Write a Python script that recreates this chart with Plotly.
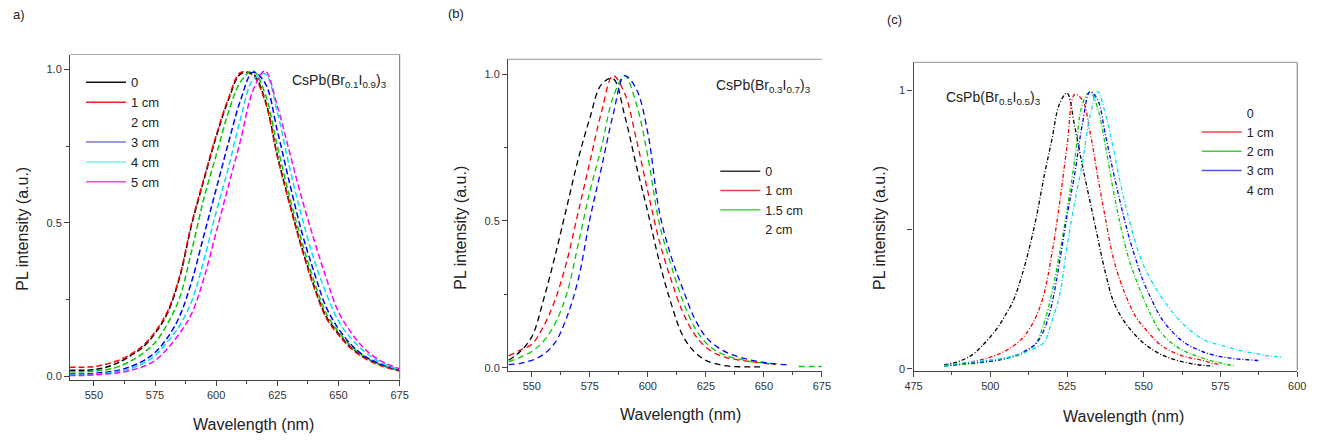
import plotly.graph_objects as go

# ---------------- data ----------------
# Panel (a) CsPb(Br0.1I0.9)3
WL_A = [540, 545, 550, 555, 560, 565, 570, 575, 580, 585, 590, 595, 600, 605,
        610, 615, 620, 625, 630, 635, 640, 645, 650, 655, 660, 665, 670, 675]
A_0CM = [0.020, 0.020, 0.022, 0.030, 0.045, 0.068, 0.095, 0.140, 0.205, 0.320, 0.495, 0.640, 0.780, 0.900,
         0.985, 0.985, 0.900, 0.720, 0.565, 0.420, 0.295, 0.195, 0.140, 0.095, 0.065, 0.045, 0.030, 0.020]
A_1CM = [0.030, 0.030, 0.032, 0.040, 0.052, 0.072, 0.100, 0.145, 0.210, 0.325, 0.500, 0.645, 0.785, 0.905,
         0.990, 0.980, 0.895, 0.715, 0.560, 0.415, 0.290, 0.190, 0.135, 0.092, 0.062, 0.042, 0.028, 0.018]
A_2CM = [0.015, 0.015, 0.017, 0.022, 0.032, 0.050, 0.075, 0.110, 0.170, 0.255, 0.410, 0.580, 0.720, 0.860,
         0.960, 0.995, 0.920, 0.750, 0.585, 0.440, 0.310, 0.205, 0.145, 0.100, 0.068, 0.046, 0.030, 0.020]
A_3CM = [0.008, 0.008, 0.010, 0.014, 0.020, 0.032, 0.050, 0.078, 0.125, 0.195, 0.310, 0.460, 0.610, 0.760,
         0.900, 0.990, 0.955, 0.800, 0.630, 0.470, 0.340, 0.225, 0.155, 0.105, 0.070, 0.048, 0.032, 0.020]
A_4CM = [0.005, 0.005, 0.007, 0.010, 0.016, 0.026, 0.042, 0.068, 0.112, 0.165, 0.245, 0.380, 0.535, 0.680,
         0.840, 0.965, 0.985, 0.860, 0.680, 0.520, 0.380, 0.270, 0.180, 0.125, 0.085, 0.056, 0.036, 0.022]
A_5CM = [0.003, 0.003, 0.005, 0.008, 0.012, 0.020, 0.032, 0.052, 0.090, 0.140, 0.205, 0.320, 0.470, 0.620,
         0.770, 0.930, 0.995, 0.880, 0.730, 0.580, 0.445, 0.320, 0.210, 0.145, 0.095, 0.062, 0.040, 0.025]
A_LABELS = ["0", "1 cm", "2 cm", "3 cm", "4 cm", "5 cm"]

# Panel (b) CsPb(Br0.3I0.7)3
WL_B = [540, 545, 550, 555, 560, 565, 570, 575, 580, 585, 590, 595, 600, 605,
        610, 615, 620, 625, 630, 635, 640, 645, 650, 655, 660, 665, 670, 675]
B_0CM = [0.025, 0.055, 0.105, 0.230, 0.380, 0.545, 0.710, 0.850, 0.965, 0.985, 0.860, 0.690, 0.530, 0.360,
         0.220, 0.110, 0.055, 0.025, 0.012, 0.005, 0.003, 0.003, 0.003, None, None, None, None, None]
B_1CM = [0.040, 0.060, 0.080, 0.140, 0.230, 0.360, 0.530, 0.700, 0.870, 0.995, 0.935, 0.780, 0.600, 0.430,
         0.300, 0.190, 0.115, 0.070, 0.045, 0.032, 0.025, 0.020, 0.015, 0.010, None, None, None, None]
B_15CM = [0.020, 0.035, 0.055, 0.090, 0.150, 0.250, 0.420, 0.600, 0.750, 0.920, 0.995, 0.900, 0.720, 0.490,
          0.350, 0.230, 0.140, 0.085, 0.055, 0.038, 0.028, 0.020, 0.016, 0.012, None, 0.004, 0.004, 0.004]
B_2CM = [0.010, 0.015, 0.025, 0.045, 0.085, 0.170, 0.300, 0.505, 0.680, 0.860, 0.995, 0.950, 0.800, 0.530,
         0.380, 0.270, 0.170, 0.105, 0.070, 0.048, 0.035, 0.025, 0.018, 0.013, 0.010, None, None, None]
B_LABELS = ["0", "1 cm", "1.5 cm", "2 cm"]

# Panel (c) CsPb(Br0.5I0.5)3
WL_C = [485.0, 487.5, 490.0, 492.5, 495.0, 497.5, 500.0, 502.5, 505.0, 507.5, 510.0, 512.5, 515.0, 517.5,
        520.0, 522.5, 525.0, 527.5, 530.0, 532.5, 535.0, 537.5, 540.0, 542.5, 545.0, 547.5, 550.0, 552.5,
        555.0, 557.5, 560.0, 562.5, 565.0, 567.5, 570.0, 572.5, 575.0, 577.5, 580.0, 582.5, 585.0, 587.5,
        590.0, 592.5, 595.0]
C_0CM = [0.015, 0.020, 0.028, 0.040, 0.058, 0.085, 0.115, 0.150, 0.195, 0.245, 0.325, 0.425, 0.545, 0.690,
         0.820, 0.950, 0.990, 0.870, 0.730, 0.600, 0.470, 0.345, 0.245, 0.190, 0.150, 0.118, 0.092, 0.072,
         0.055, 0.043, 0.033, 0.026, 0.020, 0.015, 0.012, 0.010, None, None, None, None, None, None,
         None, None, None]
C_1CM = [0.012, 0.014, 0.018, 0.022, 0.028, 0.034, 0.042, 0.052, 0.065, 0.082, 0.105, 0.140, 0.190, 0.270,
         0.410, 0.590, 0.800, 0.985, 0.965, 0.850, 0.690, 0.540, 0.400, 0.310, 0.240, 0.185, 0.150, 0.118,
         0.090, 0.072, 0.058, 0.047, 0.040, 0.035, 0.028, 0.020, 0.015, None, None, None, None, None,
         None, None, None]
C_2CM = [0.010, 0.012, 0.015, 0.018, 0.020, 0.023, 0.027, 0.031, 0.036, 0.043, 0.052, 0.068, 0.095, 0.165,
         0.270, 0.410, 0.570, 0.750, 0.950, 0.995, 0.935, 0.800, 0.645, 0.510, 0.400, 0.320, 0.250, 0.190,
         0.140, 0.108, 0.085, 0.068, 0.055, 0.045, 0.036, 0.028, 0.022, 0.015, 0.012, None, None, None,
         None, None, None]
C_3CM = [0.012, 0.014, 0.018, 0.020, 0.022, 0.025, 0.028, 0.032, 0.038, 0.046, 0.056, 0.072, 0.092, 0.140,
         0.230, 0.380, 0.550, 0.700, 0.880, 0.995, 0.965, 0.840, 0.710, 0.590, 0.480, 0.390, 0.310, 0.250,
         0.195, 0.155, 0.125, 0.100, 0.082, 0.070, 0.058, 0.050, 0.044, 0.040, 0.036, 0.034, 0.032, 0.030,
         None, None, None]
C_4CM = [0.012, 0.016, 0.020, 0.023, 0.026, 0.029, 0.032, 0.035, 0.040, 0.046, 0.054, 0.065, 0.078, 0.095,
         0.170, 0.260, 0.440, 0.600, 0.740, 0.910, 0.995, 0.915, 0.795, 0.660, 0.545, 0.445, 0.370, 0.315,
         0.270, 0.230, 0.195, 0.165, 0.140, 0.118, 0.102, 0.093, 0.085, 0.078, 0.070, 0.063, 0.058, 0.053,
         0.048, 0.045, 0.043]
C_LABELS = ["0", "1 cm", "2 cm", "3 cm", "4 cm"]

# ---------------- styles ----------------
W, H = 1327, 440
FONT = "Liberation Sans, Arial, sans-serif"
CURVE_COLORS = {"k": "#000000", "r": "#ff0000", "g": "#00cc00", "b": "#0000ff", "c": "#00e0ee", "m": "#ff00ff"}

def px_x(p):
    return p / W

def px_y(p):
    return 1 - p / H

fig = go.Figure()

def add_panel(idx, wl, series, colors, dash, width):
    xa = "x" if idx == 1 else f"x{idx}"
    ya = "y" if idx == 1 else f"y{idx}"
    for s, c in zip(series, colors):
        fig.add_trace(go.Scatter(x=wl, y=s, mode="lines", xaxis=xa, yaxis=ya,
                                 line=dict(color=CURVE_COLORS[c], width=width, dash=dash,
                                           shape="spline", smoothing=1.0),
                                 showlegend=False, hoverinfo="skip", connectgaps=False))

def add_legend(legend_name, labels, colors):
    for lab, col in zip(labels, colors):
        fig.add_trace(go.Scatter(x=[None], y=[None], mode="lines", name=lab,
                                 line=dict(color=col, width=1.5),
                                 legend=legend_name, showlegend=True))

add_panel(1, WL_A, [A_0CM, A_1CM, A_2CM, A_3CM, A_4CM, A_5CM], ["k", "r", "g", "b", "c", "m"], "6px,3px", 1.5)
add_panel(2, WL_B, [B_0CM, B_1CM, B_15CM, B_2CM], ["k", "r", "g", "b"], "6px,4px", 1.3)
add_panel(3, WL_C, [C_0CM, C_1CM, C_2CM, C_3CM, C_4CM], ["k", "r", "g", "b", "c"], "4px,2px,1px,2px", 1.3)

add_legend("legend", A_LABELS, ["#111111", "#ee2222", "rgba(0,0,0,0)", "#7777dd", "#77eeee", "#e050e0"])
add_legend("legend2", B_LABELS, ["#333333", "#e04444", "#44dd44", "rgba(0,0,0,0)"])
add_legend("legend3", C_LABELS, ["rgba(0,0,0,0)", "#f04444", "#44cc44", "#5555e0", "rgba(0,0,0,0)"])

tickfont = dict(family=FONT, size=11, color="#333333")
axline = dict(showline=True, linecolor="#444444", linewidth=1.3, ticks="outside",
              tickcolor="#444444", ticklen=5, tickwidth=1, showgrid=False, zeroline=False,
              tickfont=tickfont)

legfont = lambda s: dict(family=FONT, size=s, color="#222222")

fig.update_layout(
    width=W, height=H, margin=dict(l=0, r=0, t=0, b=0),
    paper_bgcolor="white", plot_bgcolor="white",
    font=dict(family=FONT, color="#222222"),
    xaxis=dict(domain=[px_x(62), px_x(396)], range=[540.3, 675], tick0=550, dtick=25,
               minor=dict(dtick=12.5, ticks="outside", ticklen=3, tickcolor="#444444"),
               anchor="y", **axline),
    yaxis=dict(domain=[px_y(383), px_y(55)], range=[-0.01, 1.048], tickvals=[0, 0.5, 1.0],
               ticktext=["0.0", "0.5", "1.0"],
               minor=dict(tickvals=[0.25, 0.75], ticks="outside", ticklen=3, tickcolor="#444444"),
               anchor="x", **axline),
    xaxis2=dict(domain=[px_x(506), px_x(824)], range=[539.8, 675], tick0=550, dtick=25,
                minor=dict(dtick=12.5, ticks="outside", ticklen=3, tickcolor="#444444"),
                anchor="y2", **axline),
    yaxis2=dict(domain=[px_y(374), px_y(60)], range=[-0.01, 1.05], tickvals=[0, 0.5, 1.0],
                ticktext=["0.0", "0.5", "1.0"],
                minor=dict(tickvals=[0.25, 0.75], ticks="outside", ticklen=3, tickcolor="#444444"),
                anchor="x2", **axline),
    xaxis3=dict(domain=[px_x(917), px_x(1306)], range=[475, 600], tick0=475, dtick=25,
                minor=dict(dtick=12.5, ticks="outside", ticklen=3, tickcolor="#444444"),
                anchor="y3", **axline),
    yaxis3=dict(domain=[px_y(374), px_y(63)], range=[-0.006, 1.1], tickvals=[0, 0.5, 1.0],
                ticktext=["0", "", "1"], anchor="x3", **axline),
    legend=dict(x=px_x(73), y=px_y(68), xanchor="left", yanchor="top",
                font=legfont(13), bgcolor="rgba(0,0,0,0)", itemwidth=40, tracegroupgap=0),
    legend2=dict(x=px_x(716), y=px_y(158), xanchor="left", yanchor="top",
                 font=legfont(12.5), bgcolor="rgba(0,0,0,0)", itemwidth=40, tracegroupgap=0),
    legend3=dict(x=px_x(1204), y=px_y(99), xanchor="left", yanchor="top",
                 font=legfont(12.5), bgcolor="rgba(0,0,0,0)", itemwidth=40, tracegroupgap=0),
)

# top / right frame lines
shapes = []
for xa, ya, right in [("x", "y", True), ("x2", "y2", False), ("x3", "y3", True)]:
    shapes.append(dict(type="line", xref=f"{xa} domain", yref=f"{ya} domain", x0=0, x1=1, y0=1, y1=1,
                       line=dict(color="#aaaaaa", width=1.2)))
    if right:
        shapes.append(dict(type="line", xref=f"{xa} domain", yref=f"{ya} domain", x0=1, x1=1, y0=0, y1=1,
                           line=dict(color="#888888", width=1.2)))
fig.update_layout(shapes=shapes)

ann = []
def text(x, y, s, size, angle=0, xanchor="center", color="#222222"):
    ann.append(dict(x=px_x(x), y=px_y(y), xref="paper", yref="paper", text=s, showarrow=False,
                    textangle=angle, xanchor=xanchor, yanchor="middle",
                    font=dict(family=FONT, size=size, color=color)))

# panel labels
text(2, 15, "a)", 13, xanchor="left")
text(443, 14, "(b)", 13, xanchor="left")
text(888, 20, "(c)", 13, xanchor="left")
# axis titles
text(248, 428, "Wavelength (nm)", 16)
text(14, 231, "PL intensity (a.u.)", 16, angle=-90)
text(681, 418, "Wavelength (nm)", 16)
text(458, 230, "PL intensity (a.u.)", 16, angle=-90)
text(1130, 420, "Wavelength (nm)", 16)
text(883, 230, "PL intensity (a.u.)", 16, angle=-90)
# compositions
text(285, 82, "CsPb(Br<sub>0.1</sub>I<sub>0.9</sub>)<sub>3</sub>", 14, xanchor="left")
text(715, 87, "CsPb(Br<sub>0.3</sub>I<sub>0.7</sub>)<sub>3</sub>", 14, xanchor="left")
text(948, 99, "CsPb(Br<sub>0.5</sub>I<sub>0.5</sub>)<sub>3</sub>", 14, xanchor="left")
fig.update_layout(annotations=ann)

fig.write_html("out.html")
